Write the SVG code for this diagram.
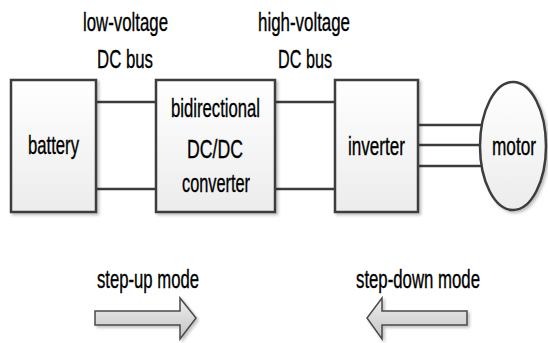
<svg xmlns="http://www.w3.org/2000/svg" width="548" height="343" viewBox="0 0 548 343">
<defs>
<linearGradient id="boxfill" x1="0" y1="0" x2="0" y2="1">
<stop offset="0" stop-color="#ffffff"/>
<stop offset="1" stop-color="#ececec"/>
</linearGradient>
<linearGradient id="arrowfill" x1="0" y1="0" x2="0" y2="1">
<stop offset="0" stop-color="#eeeeee"/>
<stop offset="1" stop-color="#c4c4c4"/>
</linearGradient>
<filter id="shadow" x="-10%" y="-10%" width="130%" height="130%">
<feGaussianBlur in="SourceAlpha" stdDeviation="1.5"/>
<feOffset dx="2" dy="2" result="b"/>
<feComponentTransfer><feFuncA type="linear" slope="0.25"/></feComponentTransfer>
<feMerge><feMergeNode/><feMergeNode in="SourceGraphic"/></feMerge>
</filter>
</defs>
<style>
.box{fill:url(#boxfill);stroke:#3c3c3c;stroke-width:2.5;filter:url(#shadow)}
.wire{stroke:#3c3c3c;stroke-width:2.5;fill:none}
.arrow{fill:url(#arrowfill);stroke:#4a4a4a;stroke-width:1.5;stroke-linejoin:miter;filter:url(#shadow)}
text{font-family:"Liberation Sans",Arial,sans-serif;font-size:25px;fill:#000;stroke:#000;stroke-width:0.35}
</style>
<rect width="548" height="343" fill="#ffffff"/>

<g id="connectors">
<line class="wire" x1="96" y1="102" x2="156" y2="102"/>
<line class="wire" x1="96" y1="189" x2="156" y2="189"/>
<line class="wire" x1="275" y1="102" x2="335" y2="102"/>
<line class="wire" x1="275" y1="189" x2="335" y2="189"/>
<line class="wire" x1="418" y1="125" x2="484" y2="125"/>
<line class="wire" x1="418" y1="145" x2="484" y2="145"/>
<line class="wire" x1="418" y1="166" x2="484" y2="166"/>
</g>

<g id="label-low">
<text x="83" y="31" textLength="85" lengthAdjust="spacingAndGlyphs">low-voltage</text>
<text x="97" y="68" textLength="56" lengthAdjust="spacingAndGlyphs">DC bus</text>
</g>
<g id="label-high">
<text x="258" y="31" textLength="92" lengthAdjust="spacingAndGlyphs">high-voltage</text>
<text x="278" y="68" textLength="54" lengthAdjust="spacingAndGlyphs">DC bus</text>
</g>

<g id="battery">
<rect class="box" x="11" y="80" width="85" height="132"/>
<text x="28" y="154" textLength="51" lengthAdjust="spacingAndGlyphs">battery</text>
</g>

<g id="converter">
<rect class="box" x="156" y="80" width="119" height="132"/>
<text x="171" y="117" textLength="89" lengthAdjust="spacingAndGlyphs">bidirectional</text>
<text x="187" y="158" textLength="56" lengthAdjust="spacingAndGlyphs">DC/DC</text>
<text x="182" y="192" textLength="68" lengthAdjust="spacingAndGlyphs">converter</text>
</g>

<g id="inverter">
<rect class="box" x="335" y="80" width="83" height="132"/>
<text x="348" y="155" textLength="57" lengthAdjust="spacingAndGlyphs">inverter</text>
</g>

<g id="motor">
<ellipse class="box" cx="513" cy="146" rx="33" ry="64"/>
<text x="492" y="155" textLength="44" lengthAdjust="spacingAndGlyphs">motor</text>
</g>

<g id="step-up">
<text x="97" y="288" textLength="102" lengthAdjust="spacingAndGlyphs">step-up mode</text>
<polygon class="arrow" points="95,311 180,311 180,298 196,318 180,339 180,325 95,325"/>
</g>

<g id="step-down">
<text x="356" y="288" textLength="124" lengthAdjust="spacingAndGlyphs">step-down mode</text>
<polygon class="arrow" points="467,311 382,311 382,298 367,318 382,339 382,325 467,325"/>
</g>
</svg>
